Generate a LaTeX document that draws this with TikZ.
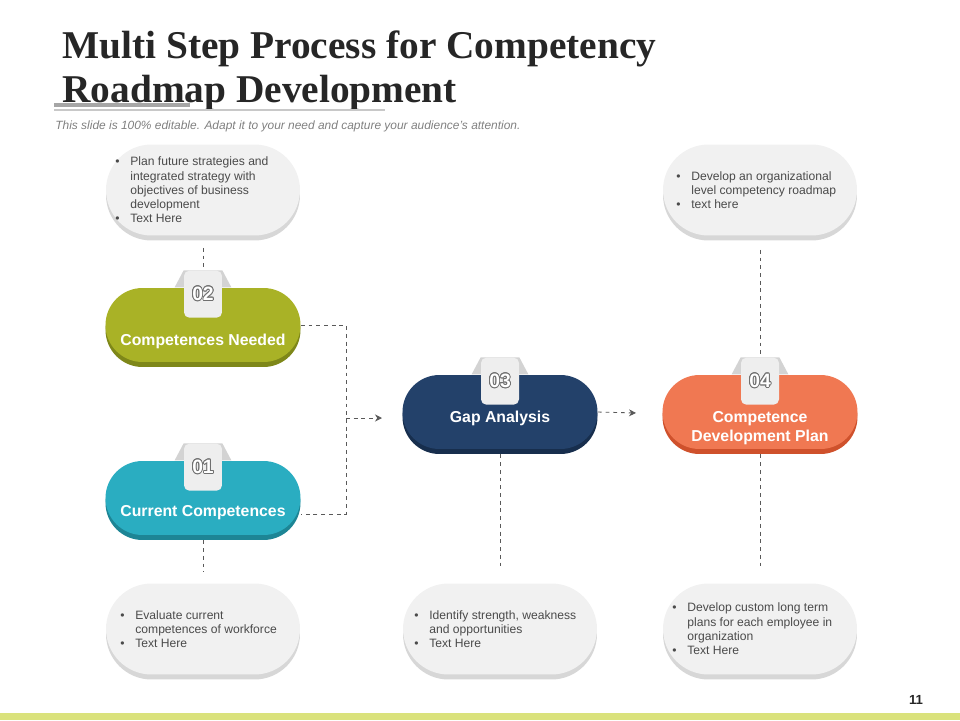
\documentclass[tikz,border=0pt]{standalone}
\usepackage{fontspec}
\setmainfont{Liberation Sans}
\newfontfamily\titlefont{Liberation Serif}
\usepackage[copies]{contour}
\usetikzlibrary{positioning,arrows.meta,shapes.misc,shadows,calc,backgrounds}
\definecolor{cOlive}{HTML}{A9B226}
\definecolor{cOliveDk}{HTML}{7E8719}
\definecolor{cTeal}{HTML}{2AADC1}
\definecolor{cTealDk}{HTML}{1D8595}
\definecolor{cNavy}{HTML}{23416A}
\definecolor{cNavyDk}{HTML}{172E4D}
\definecolor{cCoral}{HTML}{F07852}
\definecolor{cCoralDk}{HTML}{CF512C}
\definecolor{cNote}{HTML}{F1F1F1}
\definecolor{cNoteDk}{HTML}{D7D7D7}
\definecolor{cTab}{HTML}{EEEEEE}
\definecolor{cTabBk}{HTML}{D3D3D3}
\definecolor{cText}{HTML}{4A4A4A}
\definecolor{cTitle}{HTML}{262626}
\definecolor{cSub}{HTML}{808080}
\definecolor{cRule}{HTML}{A6A6A6}
\definecolor{cRuleLt}{HTML}{C8C8C8}
\definecolor{cLine}{HTML}{595959}
\definecolor{cNum}{HTML}{707070}
\definecolor{cStrip}{HTML}{DAE27C}
\contourlength{0.45pt}
\tikzset{
  notebox/.style={rounded rectangle, minimum width=3.88cm, minimum height=1.82cm,
                  inner sep=0pt, fill=cNote,
                  general shadow={fill=cNoteDk, shadow yshift=-0.1cm}},
  stepbox/.style 2 args={rounded rectangle, minimum width=3.9cm, minimum height=1.48cm,
                  inner sep=0pt, fill=#1,
                  general shadow={fill=#2, shadow yshift=-0.1cm}},
  notetxt/.style={anchor=west, align=left, inner sep=0pt, text=cText,
                  font=\fontsize{6.9}{8.1}\selectfont},
  lbl/.style={text=white, align=center, inner sep=0pt,
              font=\bfseries\fontsize{9}{10.8}\selectfont},
  tab/.style={rectangle, rounded corners=3pt, fill=cTab, minimum width=0.76cm,
              minimum height=0.94cm, inner sep=0pt, text=white,
              font=\bfseries\fontsize{11}{11}\selectfont},
  dline/.style={dashed, dash pattern=on 2.2pt off 2.2pt, draw=cLine, line width=0.5pt},
  arr/.style={dline, -{Stealth[length=4pt, width=4pt]}},
}
\newcommand{\bl}{\makebox[0.3cm][l]{\textbullet}}
\newcommand{\ind}{\hspace*{0.3cm}}
\newcommand{\tabnum}[1]{\raisebox{-1.2pt}{\contour{cNum}{#1}}}

\begin{document}
\begin{tikzpicture}[x=0.02cm, y=-0.02cm]
    \useasboundingbox (0,0) rectangle (960,720);

    % --- heading ---
    \node[anchor=base west, inner sep=0pt, align=left, text=cTitle,
          font=\titlefont\bfseries\fontsize{22.4}{25}\selectfont] (title) at (62,102)
          {Multi Step Process for Competency\\Roadmap Development};
    \draw[line width=2.3pt, cRule] (54,105.3) -- (190,105.3);
    \draw[line width=0.6pt, cRuleLt] (54,110) -- (385,110);
    \node[anchor=base west, inner sep=0pt, text=cSub,
          font=\itshape\fontsize{6.8}{7.5}\selectfont] (sub) at (55,129.5)
          {This slide is 100\% editable. Adapt it to your need and capture your audience’s attention.};

    % --- note pills ---
    \node[notebox] (tl) at (203,190) {};
    \node[notebox] (tr) at (760,190) {};
    \node[notebox] (bl) at (203,629) {};
    \node[notebox] (bm) at (500,629) {};
    \node[notebox] (br) at (760,629) {};
    \node[notetxt] (tlT) at ($(tl)+(-88,0)$) {\bl Plan future strategies and\\ \ind integrated strategy with\\ \ind objectives of business\\ \ind development\\ \bl Text Here};
    \node[notetxt] (trT) at ($(tr)+(-84,0)$) {\bl Develop an organizational\\ \ind level competency roadmap\\ \bl text here};
    \node[notetxt] (blT) at ($(bl)+(-83,0)$) {\bl Evaluate current\\ \ind competences of workforce\\ \bl Text Here};
    \node[notetxt] (bmT) at ($(bm)+(-86,0)$) {\bl Identify strength, weakness\\ \ind and opportunities\\ \bl Text Here};
    \node[notetxt] (brT) at ($(br)+(-88,0)$) {\bl Develop custom long term\\ \ind plans for each employee in\\ \ind organization\\ \bl Text Here};

    % --- steps ---
    \node[stepbox={cTeal}{cTealDk}]   (cur)  at (203,498) {};
    \node[stepbox={cOlive}{cOliveDk}] (need) at (203,325) {};
    \node[stepbox={cNavy}{cNavyDk}]   (gap)  at (500,412) {};
    \node[stepbox={cCoral}{cCoralDk}] (plan) at (760,412) {};
    \node[lbl] (curL)  at ($(cur)+(0,15)$)  {Current Competences};
    \node[lbl] (needL) at ($(need)+(0,16)$) {Competences Needed};
    \node[lbl] (gapL)  at ($(gap)+(0,6)$)   {Gap Analysis};
    \node[lbl] (planL) at ($(plan)+(0,16)$) {Competence\\Development Plan};

    % --- number tabs ---
    \node[tab] (t1) at ($(cur.north)+(0,6.5)$)  {\tabnum{01}};
    \node[tab] (t2) at ($(need.north)+(0,6.5)$) {\tabnum{02}};
    \node[tab] (t3) at ($(gap.north)+(0,6.5)$)  {\tabnum{03}};
    \node[tab] (t4) at ($(plan.north)+(0,6.5)$) {\tabnum{04}};
    \begin{scope}[on background layer]
      \foreach \t in {t1,t2,t3,t4}
        \fill[cTabBk] (\t.north west) -- (\t.north east) -- ($(\t.north east)+(9,17)$)
          -- ($(\t.north west)+(-9,17)$) -- cycle;
    \end{scope}

    % --- connectors ---
    \coordinate (jn) at (346,418);
    \coordinate (gapin) at (382,418);
    \coordinate (planin) at (636,413);
    \draw[dline] (need.east) -| (jn) |- ([yshift=-0.32cm]cur.east);
    \draw[arr] (jn) -- (gapin);
    \draw[arr] (gap.east) -- (planin);
    \draw[dline, shorten <=0.24cm] (tl.south) -- (t2.north);
    \draw[dline, shorten <=0.28cm] (tr.south) -- (t4.north);
    \draw[dline, shorten <=0.1cm, shorten >=0.22cm] (cur.south) -- (bl.north);
    \draw[dline, shorten <=0.1cm, shorten >=0.26cm] (gap.south) -- (bm.north);
    \draw[dline, shorten <=0.1cm, shorten >=0.26cm] (plan.south) -- (br.north);

    % --- footer ---
    \fill[cStrip] (0,713) rectangle (960,720);
    \node[anchor=base, inner sep=0pt, text=cTitle,
          font=\bfseries\fontsize{7.5}{8}\selectfont] (pg) at (916,704) {11};
\end{tikzpicture}
\end{document}
